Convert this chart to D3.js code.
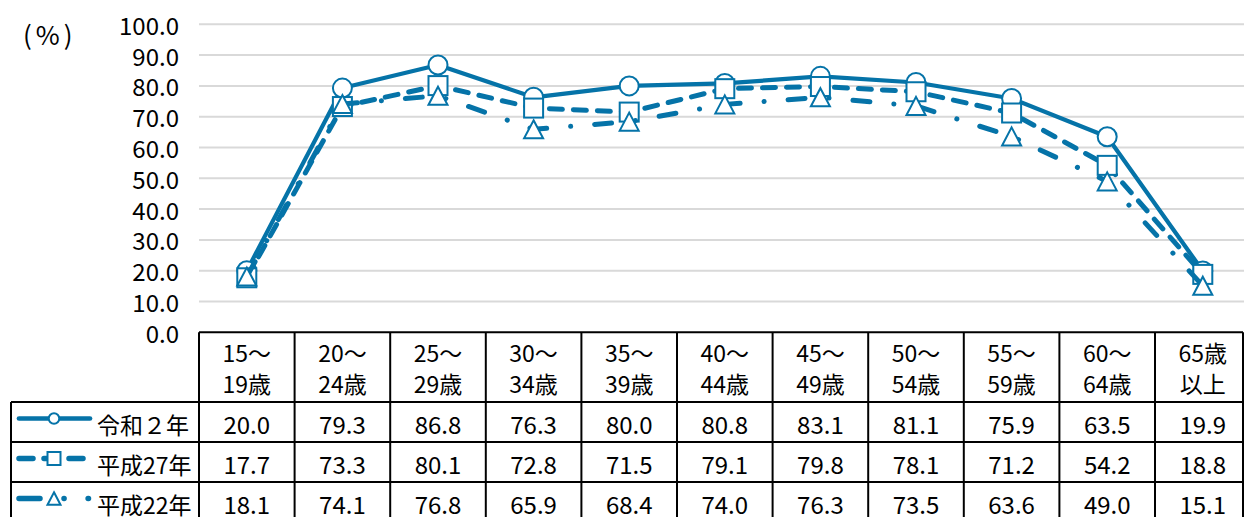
<!DOCTYPE html>
<html>
<head>
<meta charset="utf-8">
<script src="https://cdn.jsdelivr.net/npm/d3@7"></script>
<style>
  html, body { margin: 0; padding: 0; background: #fff; }
  svg { display: block; }
  text { font-family: "Noto Sans CJK JP", "Noto Sans", sans-serif; fill: #000; }
</style>
</head>
<body>
<svg id="chart" width="1244" height="517"></svg>
<script>
// Age groups (two-line header labels)
const categories = ["15～19歳", "20～24歳", "25～29歳", "30～34歳", "35～39歳", "40～44歳",
                    "45～49歳", "50～54歳", "55～59歳", "60～64歳", "65歳以上"];
const categoryLines = [["15～", "19歳"], ["20～", "24歳"], ["25～", "29歳"], ["30～", "34歳"],
                       ["35～", "39歳"], ["40～", "44歳"], ["45～", "49歳"], ["50～", "54歳"],
                       ["55～", "59歳"], ["60～", "64歳"], ["65歳", "以上"]];

// Rates (%) by survey year
const seriesNames = ["令和２年", "平成27年", "平成22年"];
const valuesR2  = [20.0, 79.3, 86.8, 76.3, 80.0, 80.8, 83.1, 81.1, 75.9, 63.5, 19.9];
const valuesH27 = [17.7, 73.3, 80.1, 72.8, 71.5, 79.1, 79.8, 78.1, 71.2, 54.2, 18.8];
const valuesH22 = [18.1, 74.1, 76.8, 65.9, 68.4, 74.0, 76.3, 73.5, 63.6, 49.0, 15.1];

const yTicks = [0, 10, 20, 30, 40, 50, 60, 70, 80, 90, 100];
const unitLabel = "(%)";

const blue = "#0573a8";
const fmt = d3.format(".1f");

const series = [
  { name: seriesNames[0], values: valuesR2,  marker: "circle",   width: 4.2, dash: null,           keyDash: null,           keyEnd: 90 },
  { name: seriesNames[1], values: valuesH27, marker: "square",   width: 5,   dash: "13,11",        keyDash: "14,11",        keyEnd: 84 },
  { name: seriesNames[2], values: valuesH22, marker: "triangle", width: 5,   dash: "17,24,0.1,24", keyDash: "21,24,0.1,24", keyEnd: 88.5 }
];

const svg = d3.select("#chart");

// Layout
const plotLeft = 199, colW = 95.6, tableRight = 1243;
const yTop = 24.3, yZero = 332.3;
const headerBottom = 402, rowH = 40;
const legendLeft = 11;

const x = d3.scaleBand().domain(categories).range([plotLeft, plotLeft + colW * categories.length]);
const y = d3.scaleLinear().domain([0, 100]).range([yZero, yTop]);
const cx = c => x(c) + x.bandwidth() / 2;

// Gridlines
svg.append("g").selectAll("line")
  .data(yTicks.filter(d => d > 0))
  .join("line")
  .attr("x1", plotLeft).attr("x2", 1244)
  .attr("y1", d => y(d)).attr("y2", d => y(d))
  .attr("stroke", "#d9d9d9").attr("stroke-width", 2);

// Y tick labels
svg.append("g").selectAll("text")
  .data(yTicks)
  .join("text")
  .attr("x", 179).attr("y", d => y(d) + 10.5)
  .attr("text-anchor", "end")
  .attr("font-size", 24)
  .text(d => fmt(d));

svg.append("text")
  .attr("x", 23).attr("y", 45)
  .attr("font-size", 26)
  .attr("letter-spacing", 4)
  .text(unitLabel);

// Marker shapes
function drawMarker(g, type, px, py, size) {
  if (type === "circle") {
    g.append("circle").attr("cx", px).attr("cy", py).attr("r", size / 2)
      .attr("fill", "#fff").attr("stroke", blue).attr("stroke-width", 2);
  } else if (type === "square") {
    g.append("rect").attr("x", px - size / 2).attr("y", py - size / 2)
      .attr("width", size).attr("height", size)
      .attr("fill", "#fff").attr("stroke", blue).attr("stroke-width", 2);
  } else {
    const h = size * 0.95, w = size;
    g.append("path")
      .attr("d", `M${px},${py - h / 2}L${px + w / 2},${py + h / 2}L${px - w / 2},${py + h / 2}Z`)
      .attr("fill", "#fff").attr("stroke", blue).attr("stroke-width", 2);
  }
}

// Lines and markers
const line = d3.line().x((d, i) => cx(categories[i])).y(d => y(d));
series.forEach(s => {
  const g = svg.append("g");
  g.append("path")
    .attr("d", line(s.values))
    .attr("fill", "none")
    .attr("stroke", blue)
    .attr("stroke-width", s.width)
    .attr("stroke-linecap", s.dash ? "round" : "butt")
    .attr("stroke-linejoin", "round")
    .attr("stroke-dasharray", s.dash);
  s.values.forEach((v, i) => drawMarker(g, s.marker, cx(categories[i]), y(v), 19));
});

// Data table
const table = svg.append("g");
const tableBottom = headerBottom + rowH * series.length;
const border = (x1, y1, x2, y2) => table.append("line")
  .attr("x1", x1).attr("y1", y1).attr("x2", x2).attr("y2", y2)
  .attr("stroke", "#000").attr("stroke-width", 2);

// Header row
border(plotLeft, yZero, tableRight, yZero);
categories.forEach((c, i) => {
  border(x(c), yZero, x(c), tableBottom);
  categoryLines[i].forEach((t, j) => {
    table.append("text")
      .attr("x", cx(c)).attr("y", 362 + j * 31)
      .attr("text-anchor", "middle").attr("font-size", 23)
      .text(t);
  });
});
border(tableRight, yZero, tableRight, tableBottom);

// Series rows
border(legendLeft, headerBottom, tableRight, headerBottom);
border(legendLeft, headerBottom, legendLeft, tableBottom);
series.forEach((s, r) => {
  const top = headerBottom + rowH * r;
  border(legendLeft, top + rowH, tableRight, top + rowH);
  // Legend key
  const ly = top + 16.5;
  table.append("line")
    .attr("x1", 19).attr("x2", s.keyEnd).attr("y1", ly).attr("y2", ly)
    .attr("stroke", blue).attr("stroke-width", s.width + 0.5)
    .attr("stroke-linecap", "round")
    .attr("stroke-dasharray", s.keyDash);
  drawMarker(table, s.marker, 54, ly, s.marker === "circle" ? 10.5 : 13);
  table.append("text")
    .attr("x", 97).attr("y", top + 32)
    .attr("font-size", 23)
    .text(s.name);
  // Values
  s.values.forEach((v, i) => {
    table.append("text")
      .attr("x", cx(categories[i])).attr("y", top + 32)
      .attr("text-anchor", "middle").attr("font-size", 24)
      .text(fmt(v));
  });
});
</script>
</body>
</html>
